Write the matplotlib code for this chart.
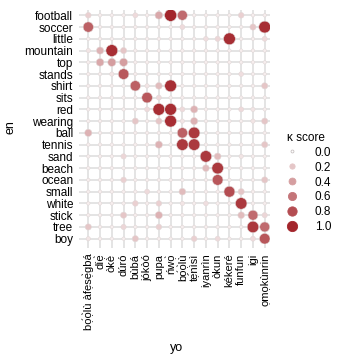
import numpy as np
import matplotlib
matplotlib.use("Agg")
import matplotlib.pyplot as plt
from matplotlib.colors import LinearSegmentedColormap
from matplotlib.lines import Line2D

plt.rcParams['font.family'] = ['Liberation Sans', 'DejaVu Sans']

# categories
en_words = ["football", "soccer", "little", "mountain", "top", "stands", "shirt",
            "sits", "red", "wearing", "ball", "tennis", "sand", "beach", "ocean",
            "small", "white", "stick", "tree", "boy"]
yo_words = ["bọ́ọ̀lù àfẹsẹ̀gbá", "díẹ̀", "òkè", "dúró", "bùbá", "jókòó", "pupa", "ńwọ̀",
            "bọ́ọ̀lù", "tẹ́nìsì", "iyanrìn", "òkun", "kékeré", "funfun", "igi", "ọmọkùnrin"]

# kappa scores, one row per English word, one column per Yoruba word
scores = [
    [0.15, 0, 0, 0, 0.10, 0, 0.35, 1.00, 0.65, 0, 0, 0, 0, 0.15, 0, 0],      # football
    [0.70, 0, 0, 0, 0, 0, 0, 0, 0.10, 0, 0, 0, 0, 0, 0.20, 0.95],            # soccer
    [0, 0, 0, 0, 0, 0, 0, 0, 0, 0, 0.08, 0.12, 0.95, 0, 0, 0.10],            # little
    [0.05, 0.30, 0.95, 0.20, 0, 0, 0, 0, 0, 0, 0, 0, 0, 0, 0, 0],            # mountain
    [0, 0.35, 0.40, 0.40, 0, 0, 0, 0, 0, 0, 0, 0, 0, 0, 0, 0],               # top
    [0, 0, 0.05, 0.75, 0, 0, 0, 0, 0, 0, 0, 0, 0, 0.08, 0, 0],               # stands
    [0, 0, 0, 0, 0.70, 0.05, 0.25, 0.95, 0, 0, 0, 0, 0, 0, 0, 0.20],         # shirt
    [0, 0, 0, 0, 0, 0.75, 0.10, 0, 0, 0, 0, 0, 0, 0, 0, 0],                  # sits
    [0, 0, 0, 0, 0, 0.10, 0.95, 0.95, 0.10, 0.30, 0, 0, 0, 0.10, 0.05, 0],   # red
    [0, 0, 0, 0, 0.20, 0, 0.20, 0.95, 0.05, 0.30, 0, 0, 0, 0, 0.05, 0.20],   # wearing
    [0.30, 0, 0, 0, 0, 0, 0, 0, 0.70, 0.90, 0, 0, 0, 0, 0, 0],               # ball
    [0, 0, 0, 0, 0, 0, 0.30, 0, 0.90, 0.90, 0, 0, 0, 0, 0, 0.20],            # tennis
    [0, 0, 0, 0.12, 0, 0, 0, 0, 0, 0, 0.90, 0.25, 0, 0.05, 0, 0],            # sand
    [0, 0, 0, 0, 0, 0, 0, 0, 0, 0, 0.25, 0.90, 0, 0, 0, 0],                  # beach
    [0, 0, 0, 0.15, 0, 0, 0, 0, 0, 0, 0, 0.75, 0, 0, 0, 0.20],               # ocean
    [0, 0, 0, 0, 0, 0.10, 0, 0, 0.25, 0, 0, 0, 0.80, 0.20, 0, 0],            # small
    [0, 0, 0, 0, 0.15, 0, 0.15, 0, 0.05, 0, 0.08, 0, 0, 0.90, 0, 0],         # white
    [0, 0, 0, 0.20, 0, 0, 0.30, 0, 0, 0, 0, 0, 0, 0.25, 0.65, 0.12],         # stick
    [0.20, 0, 0, 0.12, 0, 0, 0.15, 0, 0, 0, 0, 0, 0, 0, 0.90, 0.65],         # tree
    [0.05, 0, 0, 0, 0.20, 0, 0, 0, 0, 0.15, 0, 0.10, 0, 0, 0.10, 0.75],      # boy
]
legend_levels = [0.0, 0.2, 0.4, 0.6, 0.8, 1.0]

cmap = LinearSegmentedColormap.from_list("reds", ["#f6eeee", "#a3252b"])

def dot_size(v):
    return 6 + 70 * np.asarray(v)

vals = np.array(scores)
yy, xx = np.meshgrid(np.arange(len(en_words)), np.arange(len(yo_words)), indexing="ij")

fig = plt.figure(figsize=(3.4, 3.63), dpi=100)
ax = fig.add_axes([83 / 340, 1 - 244 / 363, 187 / 340, 234 / 363])

ax.scatter(xx.ravel(), yy.ravel(), s=dot_size(vals.ravel()), c=vals.ravel(),
           cmap=cmap, vmin=0, vmax=1, edgecolors="#e2d8d8", linewidths=0.4, zorder=3)

ax.set_xticks(range(len(yo_words)))
ax.set_xticklabels(yo_words, rotation=90, fontsize=8)
ax.set_yticks(range(len(en_words)))
ax.set_yticklabels(en_words, fontsize=8.5)
ax.set_xlim(-0.45, len(yo_words) - 0.55)
ax.set_ylim(len(en_words) - 0.55, -0.45)
ax.grid(True, color="#dcdcdc", linewidth=1.1, zorder=0)
ax.set_axisbelow(True)
for sp in ax.spines.values():
    sp.set_visible(False)
ax.tick_params(length=3, width=1.1, color="#dcdcdc", pad=4)

ax.set_xlabel("yo", fontsize=9, labelpad=8)
ax.set_ylabel("en", fontsize=9, labelpad=6)

handles = [Line2D([], [], marker="o", linestyle="", markersize=np.sqrt(dot_size(v)) * 0.85,
                  markerfacecolor=cmap(v) if v > 0 else "white",
                  markeredgecolor="#c8c0c0" if v == 0 else cmap(v), markeredgewidth=0.6)
           for v in legend_levels]
ax.legend(handles, [f"{v:.1f}" for v in legend_levels], title="κ score",
          loc="lower left", bbox_to_anchor=(1.0, 0.0), frameon=False,
          fontsize=8.5, title_fontsize=8.5, labelspacing=0.25, handletextpad=0.9)

fig.savefig("out.png", dpi=100)
